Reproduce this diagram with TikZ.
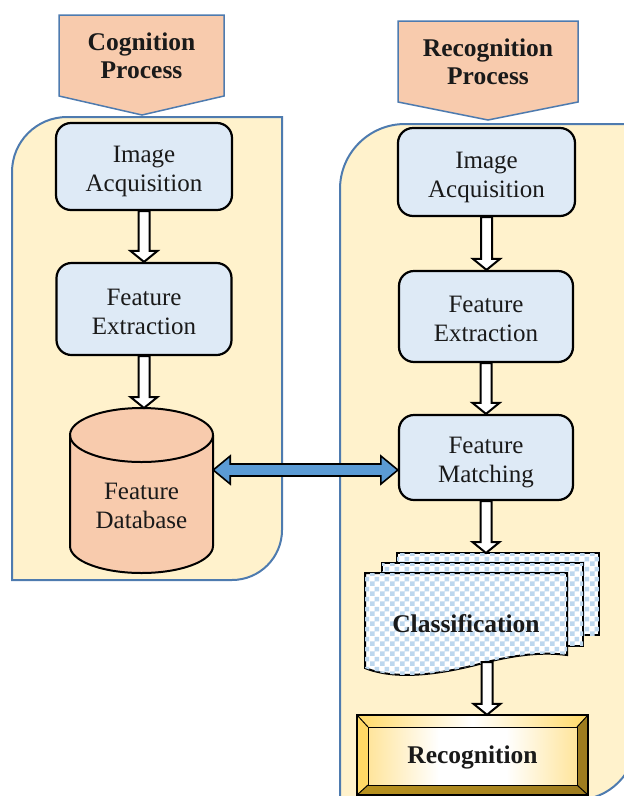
\documentclass[tikz,border=0pt]{standalone}
\usepackage{fontspec}
\setmainfont{Liberation Serif}
\usetikzlibrary{calc,patterns}

\definecolor{panelfill}{HTML}{FFF2CC}
\definecolor{panelline}{HTML}{4E7BAF}
\definecolor{tagfill}{HTML}{F8CBAD}
\definecolor{boxfill}{HTML}{DEEAF6}
\definecolor{linkblue}{HTML}{5B9BD5}
\definecolor{checkblue}{HTML}{BDD7EE}
\definecolor{goldlight}{HTML}{FFD966}
\definecolor{goldsoft}{HTML}{FFE08A}
\definecolor{golddeep}{HTML}{FFC62A}
\definecolor{golddark}{HTML}{9E7C1F}
\definecolor{goldmid}{HTML}{B8921F}
\definecolor{bevelgrey}{HTML}{D4D0C4}
\definecolor{inktext}{HTML}{1A1A1A}

% checkerboard used on the document stack
\pgfdeclarepatternformonly{checks}{\pgfpointorigin}{\pgfqpoint{10pt}{10pt}}{\pgfqpoint{10pt}{10pt}}{%
  \pgfpathrectangle{\pgfpointorigin}{\pgfqpoint{5pt}{5pt}}%
  \pgfpathrectangle{\pgfqpoint{5pt}{5pt}}{\pgfqpoint{5pt}{5pt}}%
  \pgfusepath{fill}}

% bright centre for the bevelled result box
\pgfdeclarehorizontalshading{bevelface}{100bp}{color(0bp)=(golddeep); color(22bp)=(goldsoft); color(42bp)=(white); color(58bp)=(white); color(78bp)=(goldsoft); color(100bp)=(golddeep)}

\newcommand{\boxtextfont}{\fontsize{25}{29}\selectfont}
\newcommand{\headtextfont}{\fontsize{25.5}{27.5}\selectfont\bfseries}

% hollow block arrow pointing down, from #1 to the height of #2
\newcommand{\downarrowblock}[2]{%
  \draw[hollowarrow] let \p1=(#1), \p2=(#2) in
    (\x1-5.5pt,\y1) -- (\x1+5.5pt,\y1) -- (\x1+5.5pt,\y2+11pt) -- (\x1+13.5pt,\y2+11pt)
    -- (\x1,\y2) -- (\x1-13.5pt,\y2+11pt) -- (\x1-5.5pt,\y2+11pt) -- cycle;}

\tikzset{
  panel/.style={fill=panelfill, draw=panelline, line width=2pt},
  tag/.style={fill=tagfill, draw=panelline, line width=1.5pt, line join=miter},
  tagtext/.style={font=\headtextfont, text=inktext, align=center, inner sep=0pt},
  stepbox/.style={draw=black, line width=2.2pt, rounded corners=15pt, fill=boxfill,
    align=center, font=\boxtextfont, text=inktext, inner sep=0pt,
    text height=50pt, text depth=0pt},
  dbtext/.style={align=center, font=\boxtextfont, text=inktext, inner sep=0pt,
    minimum width=143pt},
  hollowarrow/.style={fill=white, draw=black, line width=2pt, line join=miter},
  linkarrow/.style={fill=linkblue, draw=black, line width=1.6pt, line join=miter},
  page/.style={fill=white, draw=black, line width=2pt,
    postaction={pattern=checks, pattern color=checkblue}},
  bevelline/.style={draw=black, line width=1pt},
}

\begin{document}
\begin{tikzpicture}[x=1pt, y=-1pt]
\useasboundingbox (0,0) rectangle (624,796);
\clip (0,0) rectangle (624,796);

% ---------- panels ----------
\draw[panel] (12,580) -- (12,172) .. controls (12,141.6) and (36.6,117) .. (67,117)
  -- (282,117) -- (282,530) .. controls (282,557.6) and (259.6,580) .. (232,580) -- cycle;
\draw[panel] (340,800) -- (340,189) .. controls (340,153.1) and (369.1,124) .. (405,124)
  -- (636,124) -- (636,740) .. controls (636,773.1) and (609.1,800) .. (576,800) -- cycle;

% ---------- header tags ----------
\draw[tag] (59,15) -- (224,15) -- (224,96) -- (142,115) -- (59,96) -- cycle;
\node[tagtext] (cogtag) at (141.5,56) {Cognition\\Process};
\draw[tag] (398,21) -- (578,21) -- (578,102) -- (488,120) -- (398,102) -- cycle;
\node[tagtext] (rectag) at (488,62) {Recognition\\Process};

% ---------- cognition steps ----------
\node[stepbox, minimum width=176pt, minimum height=87pt] (ia1) at (144,166.5) {Image\\Acquisition};
\node[stepbox, minimum width=175pt, minimum height=92pt] (fe1) at (144,309) {Feature\\Extraction};

% feature database cylinder
\fill[tagfill] (70,435) -- (70,546) arc[start angle=180, end angle=0, x radius=71.5, y radius=27]
  -- (213,435) arc[start angle=0, end angle=-180, x radius=71.5, y radius=27] -- cycle;
\draw[black, line width=2pt] (70,435) -- (70,546) arc[start angle=180, end angle=0, x radius=71.5, y radius=27]
  -- (213,435);
\draw[black, line width=2pt] (141.5,435) ellipse [x radius=71.5, y radius=27];
\node[dbtext] (db) at (141.5,506) {Feature\\Database};
\coordinate (dbtop) at (141.5,408);

% ---------- recognition steps ----------
\node[stepbox, minimum width=177pt, minimum height=88pt] (ia2) at (486.5,172) {Image\\Acquisition};
\node[stepbox, minimum width=174pt, minimum height=91pt] (fe2) at (486,316.5) {Feature\\Extraction};
\node[stepbox, minimum width=174pt, minimum height=85pt] (fm) at (486,457.5) {Feature\\Matching};

% classification document stack
\draw[page] (397,553) rectangle (599,635);
\draw[page] (382,563) rectangle (583,646);
\draw[page] (365,573) -- (567,573) -- (567,655)
  .. controls (545,652) and (520,654) .. (487,662)
  .. controls (450,672) and (400,682) .. (365,668) -- cycle;
\node[font=\headtextfont, text=inktext, inner sep=0pt] (cls) at (466,624) {Classification};
\coordinate (stacktop) at (487,553);
\coordinate (stackfoot) at (487,662);

% bevelled recognition box
\shade[shading=bevelface] (368,727) rectangle (577,785);
\shade[left color=goldlight, right color=goldlight, middle color=white]
  (357,715) -- (588,715) -- (577,727) -- (368,727) -- cycle;
\fill[goldlight] (357,715) -- (368,727) -- (368,785) -- (357,795) -- cycle;
\fill[golddark] (588,715) -- (577,727) -- (577,785) -- (588,795) -- cycle;
\shade[left color=goldmid, middle color=bevelgrey, right color=golddark]
  (357,795) -- (368,785) -- (577,785) -- (588,795) -- cycle;
\draw[bevelline] (368,727) rectangle (577,785);
\draw[bevelline] (357,715) -- (368,727) (588,715) -- (577,727)
  (357,795) -- (368,785) (588,795) -- (577,785);
\draw[black, line width=2.4pt] (357,715) rectangle (588,795);
\node[font=\headtextfont, text=inktext, inner sep=0pt, minimum width=231pt, minimum height=80pt,
  text depth=0pt] (rec) at (472.5,755) {Recognition};

% ---------- connectors ----------
\downarrowblock{ia1.south}{fe1.north}
\downarrowblock{fe1.south}{dbtop}
\downarrowblock{ia2.south}{fe2.north}
\downarrowblock{fe2.south}{fm.north}
\downarrowblock{fm.south}{stacktop}
\downarrowblock{stackfoot}{rec.north}

% two-way link between the database and the matcher
\coordinate (link) at (300,470);
\draw[linkarrow] let \p1=(db.east |- link), \p2=(fm.west |- link) in
  (\x1,\y1) -- (\x1+17pt,\y1+14pt) -- (\x1+17pt,\y1+6pt) -- (\x2-17pt,\y1+6pt)
  -- (\x2-17pt,\y1+14pt) -- (\x2,\y1) -- (\x2-17pt,\y1-14pt) -- (\x2-17pt,\y1-6pt)
  -- (\x1+17pt,\y1-6pt) -- (\x1+17pt,\y1-14pt) -- cycle;
\end{tikzpicture}
\end{document}
